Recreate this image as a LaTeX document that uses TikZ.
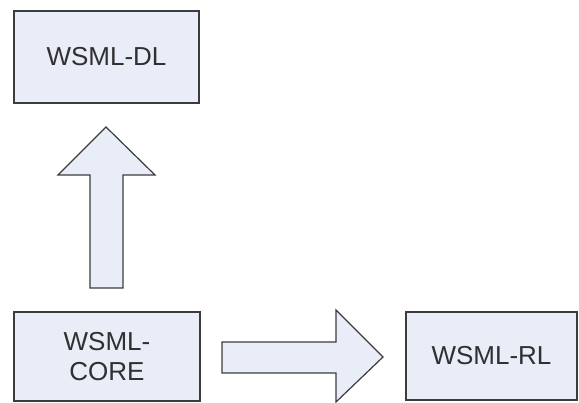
\documentclass[tikz,border=0pt]{standalone}
\usepackage{fontspec}
\setmainfont{Liberation Sans}
\definecolor{boxfill}{HTML}{E9EDF8}
\definecolor{boxline}{HTML}{3C3C3C}
\definecolor{txt}{HTML}{303030}
\begin{document}
\begin{tikzpicture}[x=1pt,y=-1pt,
  lbox/.style={draw=boxline,fill=boxfill,line width=1.4pt,inner sep=0pt,align=center,
    font=\fontsize{26}{30}\selectfont,text=txt},
  barrow/.style={draw=boxline,fill=boxfill,line width=1.2pt,line join=miter}]
\useasboundingbox (0,0) rectangle (579,403);
\node[lbox,minimum width=185pt,minimum height=92pt] (dl) at (106.5,57) {WSML-DL};
\node[lbox,minimum width=186pt,minimum height=89pt] (core) at (107,356.5) {WSML-\\CORE};
\node[lbox,minimum width=171pt,minimum height=88pt] (rl) at (491.5,356) {WSML-RL};
\draw[barrow] (106,127) -- (155,175) -- (123,175) -- (123,288) -- (90,288) -- (90,175) -- (58,175) -- cycle;
\draw[barrow] (383,357) -- (336,402) -- (336,373) -- (222,373) -- (222,342) -- (336,342) -- (336,310) -- cycle;
\end{tikzpicture}
\end{document}
